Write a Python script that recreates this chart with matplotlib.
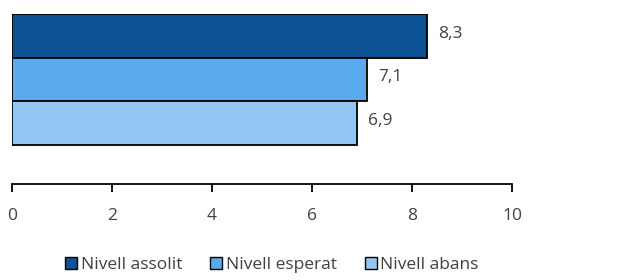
import matplotlib
matplotlib.use('Agg')
import matplotlib.pyplot as plt
from matplotlib.patches import Patch

# Data
series = ['Nivell assolit', 'Nivell esperat', 'Nivell abans']
values = [8.3, 7.1, 6.9]
colors = ['#0E5296', '#5AAAF0', '#94C6F4']
xticks = [0, 2, 4, 6, 8, 10]

plt.rcParams['font.family'] = ['Open Sans', 'DejaVu Sans']
text_color = '#404040'

fig = plt.figure(figsize=(6.31, 2.8), dpi=100)
ax = fig.add_axes([12 / 631, 1 - 184 / 280, 500 / 631, 170 / 280])

positions = [2, 1, 0]
for pos, val, col in zip(positions, values, colors):
    ax.barh(pos, val, height=1.0, color=col, edgecolor='black', linewidth=1.3)
    ax.text(val + 0.22, pos + 0.05, f'{val:.1f}'.replace('.', ','),
            va='center', ha='left', fontsize=12.5, color=text_color)

ax.set_xlim(0, 10)
ax.set_ylim(-1.39, 2.5)
ax.set_xticks(xticks)
ax.set_xticklabels([str(t) for t in xticks], fontsize=12.5, color=text_color)
ax.tick_params(axis='x', direction='out', length=6, width=1.3, pad=11)
ax.set_yticks([])
for s in ['top', 'right', 'left']:
    ax.spines[s].set_visible(False)
ax.spines['bottom'].set_linewidth(1.3)

handles = [Patch(facecolor=c, edgecolor='black', linewidth=1.0) for c in colors]
fig.legend(handles, series, loc='center', bbox_to_anchor=(272 / 631, 1 - 265 / 280),
           ncol=3, frameon=False, fontsize=12.5, handlelength=0.7, handleheight=0.7,
           handletextpad=0.2, columnspacing=1.6, labelcolor=text_color)

fig.savefig('out.png', dpi=100)
